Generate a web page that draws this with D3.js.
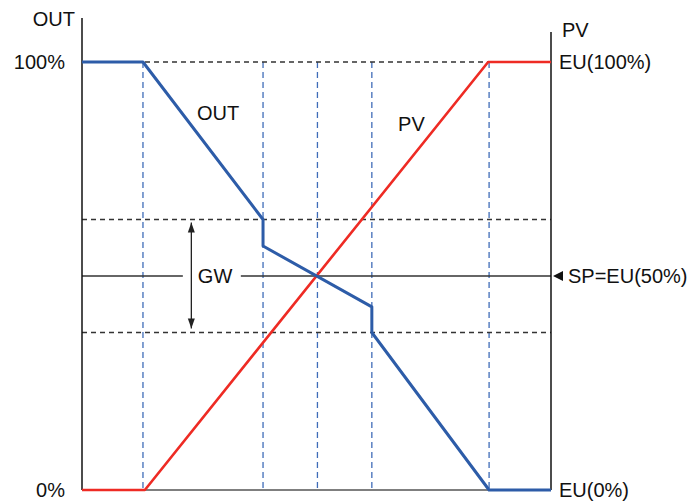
<!DOCTYPE html>
<html>
<head>
<meta charset="utf-8">
<script src="https://cdn.jsdelivr.net/npm/d3@7"></script>
<style>
html,body{margin:0;padding:0;background:#fff;}
svg{display:block;font-family:"Liberation Sans",Arial,sans-serif;}
</style>
</head>
<body>
<svg id="chart" width="697" height="503"></svg>
<script>
// ---- data ----
const outX = [0, 13.0, 38.6, 38.6, 61.8, 61.8, 86.8, 100];
const outY = [100, 100, 63.2, 57.0, 42.8, 36.8, 0, 0];
const pvX = [0, 13.4, 86.6, 100];
const pvY = [0, 0, 100, 100];
const guideX = [13.0, 38.6, 50.2, 61.8, 86.8];
const guideY = [100, 63.2, 36.8];
const spValue = 50;
const gwBand = [63.2, 36.8];
const leftTicks = [{v: 100, t: "100%"}, {v: 0, t: "0%"}];
const rightTicks = [{v: 100, t: "EU(100%)"}, {v: 0, t: "EU(0%)"}];
const spLabel = "SP=EU(50%)";
const leftTitle = "OUT", rightTitle = "PV";
const seriesLabels = [{t: "OUT", x: 24.5, y: 86.5}, {t: "PV", x: 67.4, y: 83.8}];
const gwLabel = {t: "GW", x: 24.7};

// ---- scales ----
const svg = d3.select("#chart");
const x = d3.scaleLinear().domain([0, 100]).range([82, 551]);
const y = d3.scaleLinear().domain([0, 100]).range([490, 62]);
const fs = 20;

// vertical blue dashed guides
svg.append("g").selectAll("line").data(guideX).join("line")
  .attr("x1", d => x(d)).attr("x2", d => x(d))
  .attr("y1", y(100)).attr("y2", y(0))
  .attr("stroke", "#3f6cb8").attr("stroke-width", 1.3)
  .attr("stroke-dasharray", "6,4");

// horizontal dark dashed guides
svg.append("g").selectAll("line").data(guideY).join("line")
  .attr("x1", x(0)).attr("x2", x(100))
  .attr("y1", d => y(d)).attr("y2", d => y(d))
  .attr("stroke", "#333").attr("stroke-width", 1.3)
  .attr("stroke-dasharray", "5,4");

// SP line with gap for GW label
const gapL = x(gwLabel.x) - 15, gapR = x(gwLabel.x) + 43;
svg.append("line").attr("x1", x(0)).attr("x2", gapL)
  .attr("y1", y(spValue)).attr("y2", y(spValue))
  .attr("stroke", "#333").attr("stroke-width", 1.4);
svg.append("line").attr("x1", gapR).attr("x2", x(100))
  .attr("y1", y(spValue)).attr("y2", y(spValue))
  .attr("stroke", "#333").attr("stroke-width", 1.4);

// bottom baseline
svg.append("line").attr("x1", x(0)).attr("x2", x(100))
  .attr("y1", y(0)).attr("y2", y(0))
  .attr("stroke", "#555").attr("stroke-width", 1.4);

// axes lines
svg.append("line").attr("x1", x(0)).attr("x2", x(0))
  .attr("y1", 18).attr("y2", y(0)).attr("stroke", "#111").attr("stroke-width", 1.5);
svg.append("line").attr("x1", x(100)).attr("x2", x(100))
  .attr("y1", 32).attr("y2", y(0)).attr("stroke", "#111").attr("stroke-width", 1.5);

// GW double arrow
const ax = x(gwLabel.x) - 6.5;
const defs = svg.append("defs");
defs.append("marker").attr("id", "ah").attr("viewBox", "0 0 10 10")
  .attr("refX", 10).attr("refY", 5).attr("markerWidth", 10).attr("markerHeight", 10)
  .attr("markerUnits", "userSpaceOnUse").attr("orient", "auto-start-reverse")
  .append("path").attr("d", "M0,1.5 L10,5 L0,8.5 Z").attr("fill", "#222");
svg.append("line").attr("x1", ax).attr("x2", ax)
  .attr("y1", y(gwBand[0]) + 3).attr("y2", y(gwBand[1]) - 4)
  .attr("stroke", "#222").attr("stroke-width", 1.3)
  .attr("marker-start", "url(#ah)").attr("marker-end", "url(#ah)");

// lines
const line = d3.line().x(d => x(d[0])).y(d => y(d[1]));
svg.append("path").datum(pvX.map((v, i) => [v, pvY[i]]))
  .attr("d", line).attr("fill", "none").attr("stroke", "#ee2b24")
  .attr("stroke-width", 2.6).attr("stroke-linejoin", "round");
svg.append("path").datum(outX.map((v, i) => [v, outY[i]]))
  .attr("d", line).attr("fill", "none").attr("stroke", "#2d5ca8")
  .attr("stroke-width", 3).attr("stroke-linejoin", "round");

// SP triangle marker
svg.append("path")
  .attr("d", `M${x(100) + 2},${y(spValue)} l10,-5 l0,10 Z`)
  .attr("fill", "#111");

// texts
const txt = (t, px, py, anchor) => svg.append("text").text(t)
  .attr("x", px).attr("y", py).attr("text-anchor", anchor || "start")
  .attr("font-size", fs).attr("fill", "#111");

txt(leftTitle, 75, 26, "end");
txt(rightTitle, 562, 37);
leftTicks.forEach(d => txt(d.t, 65, y(d.v) + 7, "end"));
rightTicks.forEach(d => txt(d.t, 559, y(d.v) + 7));
txt(spLabel, 568, y(spValue) + 7);
seriesLabels.forEach(d => txt(d.t, x(d.x), y(d.y)));
txt(gwLabel.t, x(gwLabel.x), y(spValue) + 7);
</script>
</body>
</html>
